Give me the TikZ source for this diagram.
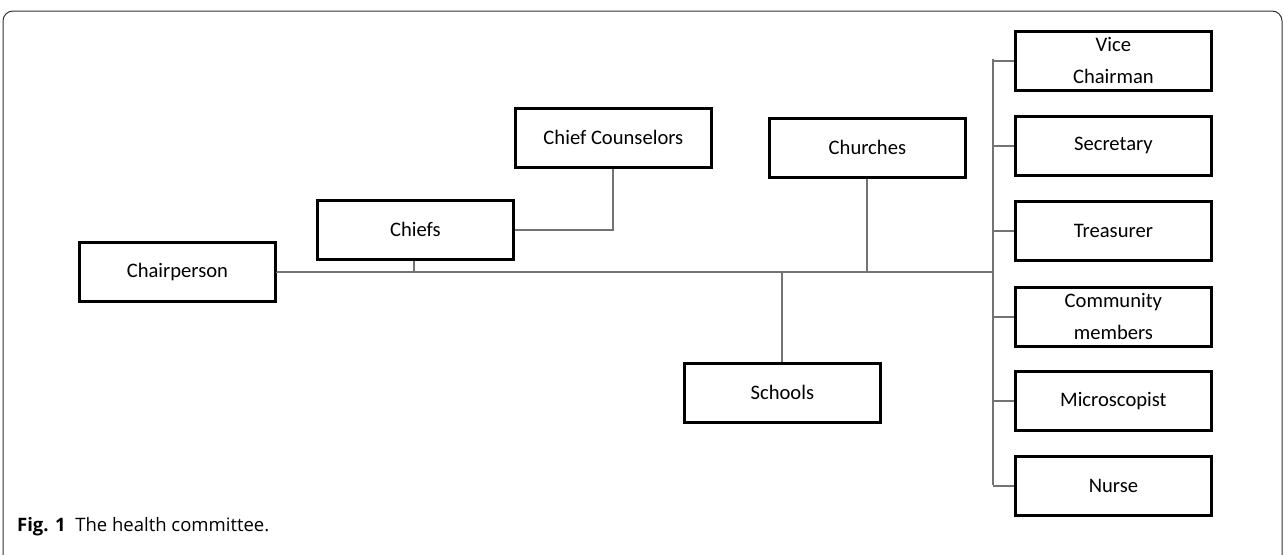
\documentclass[tikz,border=0pt]{standalone}
\usepackage{fontspec}
\setmainfont{Carlito}
\newfontfamily\capfont{Open Sans}
\begin{document}
\begin{tikzpicture}[x=1pt,y=-1pt,
  box/.style={draw=black,line width=2.8pt,minimum width=196pt,minimum height=59pt,inner sep=0pt,align=center,font=\fontsize{20.6}{32}\selectfont,anchor=north west},
  conn/.style={draw=black!55,line width=2pt}]
\useasboundingbox (0,0) rectangle (1284,554);
% frame
\draw[black!80,line width=1pt,rounded corners=10pt] (3,556) -- (3,11) -- (1282,11) -- (1282,556);
% nodes
\node[box] (chair) at (78,241) {Chairperson};
\node[box] (chiefs) at (316,199) {Chiefs};
\node[box] (couns) at (514,107) {Chief Counselors};
\node[box] (church) at (768,117) {Churches};
\node[box] (school) at (683,362) {Schools};
\node[box] (vice) at (1014,30) {Vice\\Chairman};
\node[box] (sec) at (1014,115) {Secretary};
\node[box] (trea) at (1014,200) {Treasurer};
\node[box] (comm) at (1014,286) {Community\\members};
\node[box] (micro) at (1014,370) {Microscopist};
\node[box] (nurse) at (1014,455) {Nurse};
% bus coordinates
\coordinate (bus) at (993,272);
\coordinate (bustop) at (993,59);
\coordinate (busbot) at (993,485);
% connectors
\draw[conn] (chair.east) -- (chair.east |- bus) -- (bus);
\draw[conn] (bustop) -- (busbot);
\draw[conn] (chiefs.south -| 414,0) -- (414,272);
\draw[conn] (chiefs.east) -- (couns.south |- chiefs.east) -- (couns.south);
\draw[conn] (church.south) -- (church.south |- bus);
\draw[conn] (school.north) -- (school.north |- bus);
\foreach \n in {vice,sec,trea,comm,micro,nurse}{
  \draw[conn] (\n.west) -- (\n.west -| bus);
}
% caption
\node[anchor=base west,inner sep=0pt,font=\capfont\fontsize{18.5}{22}\selectfont] (cap) at (17,531) {\textbf{Fig. 1}\ \ The health committee.};
\end{tikzpicture}
\end{document}
